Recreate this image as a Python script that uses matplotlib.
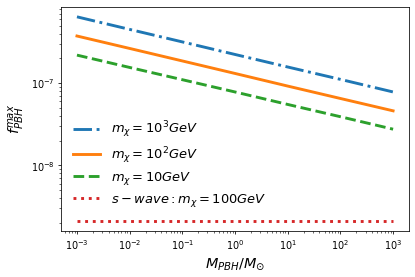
import numpy as np
import matplotlib.pyplot as plt

m_pbh = [1e-3, 1e-2, 1e-1, 1e0, 1e1, 1e2, 1e3]
f_1000 = [6.4e-7, 4.5e-7, 3.17e-7, 2.23e-7, 1.57e-7, 1.11e-7, 7.8e-8]
f_100 = [3.74e-7, 2.64e-7, 1.86e-7, 1.31e-7, 9.2e-8, 6.5e-8, 4.6e-8]
f_10 = [2.19e-7, 1.55e-7, 1.10e-7, 7.8e-8, 5.5e-8, 3.9e-8, 2.75e-8]
f_swave = [2.1e-9, 2.1e-9, 2.1e-9, 2.1e-9, 2.1e-9, 2.1e-9, 2.1e-9]

fig = plt.figure(figsize=(6, 4), dpi=69.33)
ax = fig.add_axes([0.147, 0.165, 0.836, 0.81])

ax.plot(m_pbh, f_1000, '-.', color='tab:blue', lw=3, label=r'$m_\chi=10^3GeV$')
ax.plot(m_pbh, f_100, '-', color='tab:orange', lw=3, label=r'$m_\chi=10^2GeV$')
ax.plot(m_pbh, f_10, '--', color='tab:green', lw=3, label=r'$m_\chi=10GeV$')
ax.plot(m_pbh, f_swave, ':', color='tab:red', lw=3, label=r'$s-wave: m_\chi=100GeV$')

ax.set_xscale('log')
ax.set_yscale('log')
ax.set_xticks([1e-3, 1e-2, 1e-1, 1e0, 1e1, 1e2, 1e3])
ax.set_xlabel(r'$M_{PBH}/M_{\odot}$', fontsize=15)
ax.set_ylabel(r'$f_{PBH}^{max}$', fontsize=15)
ax.legend(loc='lower left', bbox_to_anchor=(0, 0.05), frameon=False, fontsize=13.5,
          handlelength=2.1, labelspacing=0.35)

fig.savefig('out.png')
